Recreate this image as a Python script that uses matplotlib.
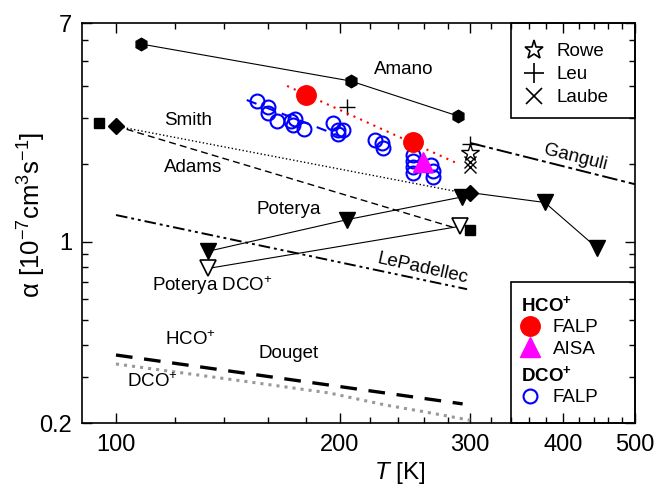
import numpy as np
import matplotlib
matplotlib.use('Agg')
import matplotlib.pyplot as plt
from matplotlib.patches import Rectangle
from matplotlib.lines import Line2D
from matplotlib.ticker import FixedLocator, FixedFormatter, NullFormatter

plt.rcParams['font.family']      = 'Liberation Sans'
plt.rcParams['mathtext.fontset'] = 'custom'
plt.rcParams['mathtext.rm']      = 'Liberation Sans'
plt.rcParams['mathtext.it']      = 'Liberation Sans:italic'
plt.rcParams['mathtext.bf']      = 'Liberation Sans:bold'
plt.rcParams['mathtext.default'] = 'regular'
plt.rcParams['axes.linewidth']   = 1.2

# recombination rate coefficients, alpha in 1e-7 cm^3 s^-1, T in K
T_amano = [108, 207, 289]
a_amano = [5.81, 4.18, 3.06]

T_smith = [100, 300]
a_smith = [2.80, 1.55]
T_smith_fit = [100, 286]
a_smith_fit = [2.80, 1.57]

T_adams = [95, 300]
a_adams = [2.88, 1.11]
T_adams_fit = [100, 284]
a_adams_fit = [2.80, 1.14]

T_pot = [133, 205, 292]
a_pot = [0.92, 1.22, 1.49]
T_pot_dco = [133, 291]
a_pot_dco = [0.79, 1.15]

T_high = [300, 378, 445]
a_high = [1.55, 1.42, 0.945]

T_lepad = [100, 297]
a_lepad = [1.27, 0.657]
T_ganguli = [300, 500]
a_ganguli = [2.41, 1.67]

T_douget_hco = [100, 293]
a_douget_hco = [0.366, 0.237]
T_douget_dco = [100, 150, 194, 230, 260, 300]
a_douget_dco = [0.338, 0.289, 0.261, 0.235, 0.221, 0.205]

T_leu = [205, 300]
a_leu = [3.32, 2.38]
T_rowe = [300]
a_rowe = [2.20]
T_laube = [300, 300]
a_laube = [2.03, 1.94]

# this work
T_falp_hco = [180, 251]
a_falp_hco = [3.69, 2.43]
T_falp_hco_fit = [170, 286]
a_falp_hco_fit = [4.0, 2.03]
T_aisa = [259]
a_aisa = [2.03]

T_falp_dco = [155, 160, 160, 165, 172, 174, 179, 173, 196, 199, 202, 199,
              223, 228, 229, 251, 251, 251, 251, 266, 267, 267]
a_falp_dco = [3.50, 3.32, 3.15, 2.93, 2.93, 2.98, 2.73, 2.83, 2.88, 2.70, 2.70, 2.61,
              2.47, 2.41, 2.30, 2.17, 2.05, 1.95, 1.84, 1.98, 1.88, 1.78]
T_falp_dco_fit = [150, 207]
a_falp_dco_fit = [3.53, 2.47]

x_major = [100, 200, 300, 400, 500]
x_minor = [120, 140, 160, 180, 220, 240, 260, 280, 320, 340, 360, 380,
           420, 440, 460, 480]
y_major = [0.2, 1, 7]
y_minor = [0.3, 0.4, 0.5, 0.6, 0.7, 0.8, 0.9, 2, 3, 4, 5, 6]

fig = plt.figure(figsize=(6.58, 4.87), dpi=100)
ax = fig.add_axes([82/658, 64/487, 553/658, 400/487])
ax.set_xscale('log')
ax.set_yscale('log')

k = 'black'
ax.plot(T_amano, a_amano, 'h-', color=k, lw=0.8, ms=9)
ax.plot(T_smith_fit, a_smith_fit, ':', color=k, lw=1.0)
ax.plot(T_adams_fit, a_adams_fit, color=k, lw=1.0, dashes=(5, 3))
ax.plot(T_smith, a_smith, 'D', color=k, ms=8, ls='none')
ax.plot(T_adams, a_adams, 's', color=k, ms=6.5, ls='none')
ax.plot(T_pot, a_pot, 'v-', color=k, lw=0.8, ms=11)
ax.plot(T_pot_dco, a_pot_dco, 'v-', color=k, mfc='white', lw=0.8, ms=11, mew=1.2)
ax.plot(T_high, a_high, 'v-', color=k, lw=0.8, ms=11, markevery=[1, 2])
ax.plot(T_lepad, a_lepad, color=k, lw=1.4, dashes=(6, 2, 1.5, 2, 1.5, 2))
ax.plot(T_ganguli, a_ganguli, color=k, lw=1.4, dashes=(8, 2, 2, 2))
ax.plot(T_douget_hco, a_douget_hco, color=k, lw=2.4, dashes=(5, 3.5))
ax.plot(T_douget_dco, a_douget_dco, ':', color='#999999', lw=2.2)

ax.plot(T_leu, a_leu, '+', color=k, ms=11, mew=1.0)
ax.plot(T_rowe, a_rowe, '*', color=k, mfc='white', ms=13, mew=1.0)
ax.plot(T_laube, a_laube, 'x', color=k, ms=8, mew=1.0)

ax.plot(T_falp_hco_fit, a_falp_hco_fit, color='red', lw=1.5, dashes=(1, 2.5))
ax.plot(T_falp_dco_fit, a_falp_dco_fit, color='blue', lw=1.5, dashes=(5, 4))
ax.plot(T_falp_dco, a_falp_dco, 'o', color='blue', mfc='none', ms=10, mew=1.5, ls='none')
ax.plot(T_falp_hco, a_falp_hco, 'o', color='red', ms=14, ls='none')
ax.plot(T_aisa, a_aisa, '^', color='magenta', ms=14, ls='none')

# text labels for the literature data
fs = 13.5
ax.text(244, 4.65, 'Amano', fontsize=fs, ha='center', va='center')
ax.text(125, 2.93, 'Smith', fontsize=fs, ha='center', va='center')
ax.text(127, 1.93, 'Adams', fontsize=fs, ha='center', va='center')
ax.text(171, 1.33, 'Poterya', fontsize=fs, ha='center', va='center')
ax.text(135, 0.68, r'Poterya $\mathrm{DCO}^{+}$', fontsize=fs, ha='center', va='center')
ax.text(126, 0.418, r'$\mathrm{HCO}^{+}$', fontsize=fs, ha='center', va='center')
ax.text(171, 0.372, 'Douget', fontsize=fs, ha='center', va='center')
ax.text(112, 0.288, r'$\mathrm{DCO}^{+}$', fontsize=fs, ha='center', va='center')
ax.text(259, 0.79, 'LePadellec', fontsize=fs, ha='center', va='center', rotation=-12.5)
ax.text(416, 2.11, 'Ganguli', fontsize=fs, ha='center', va='center', rotation=-14)

ax.set_xlim(90, 500)
ax.set_ylim(0.2, 7)
ax.xaxis.set_major_locator(FixedLocator(x_major))
ax.xaxis.set_minor_locator(FixedLocator(x_minor))
ax.xaxis.set_major_formatter(FixedFormatter([str(v) for v in x_major]))
ax.xaxis.set_minor_formatter(NullFormatter())
ax.yaxis.set_major_locator(FixedLocator(y_major))
ax.yaxis.set_minor_locator(FixedLocator(y_minor))
ax.yaxis.set_major_formatter(FixedFormatter([str(v) for v in y_major]))
ax.yaxis.set_minor_formatter(NullFormatter())
ax.tick_params(which='both', direction='in', top=True, right=True, width=1.0)
ax.tick_params(which='major', length=7, labelsize=17)
ax.tick_params(axis='x', which='major', pad=8)
ax.tick_params(axis='y', which='major', pad=7)
ax.tick_params(which='minor', length=4)

ax.set_xlabel(r'$\mathit{T}$ [K]', fontsize=17.5)
ax.set_ylabel(r'α [10$^{-7}$cm$^{3}$s$^{-1}$]', fontsize=18.5)
ax.xaxis.set_label_coords(0.575, -0.093)
ax.yaxis.set_label_coords(-0.062, 0.52)

# legend boxes
ax.add_patch(Rectangle((0.776, 0.7625), 0.224, 0.2375, transform=ax.transAxes,
                       fill=False, lw=1.2, ec='black', zorder=6, clip_on=False))
ax.add_patch(Rectangle((0.776, 0.0), 0.224, 0.3525, transform=ax.transAxes,
                       fill=False, lw=1.2, ec='black', zorder=6, clip_on=False))

h_lit = [Line2D([], [], marker='*', color=k, mfc='white', ms=14, mew=1.2, ls='none'),
         Line2D([], [], marker='+', color=k, ms=14, mew=1.2, ls='none'),
         Line2D([], [], marker='x', color=k, ms=11, mew=1.2, ls='none')]
leg1 = ax.legend(h_lit, ['Rowe', 'Leu', 'Laube'], loc='upper left',
                 bbox_to_anchor=(0.797, 0.95), frameon=False, fontsize=fs,
                 borderpad=0, borderaxespad=0, handlelength=1.2,
                 handletextpad=0.6, labelspacing=0.32)
ax.add_artist(leg1)

h_hco = [Line2D([], [], marker='o', color='red', ms=14, ls='none'),
         Line2D([], [], marker='^', color='magenta', ms=14, ls='none')]
leg2 = ax.legend(h_hco, ['FALP', 'AISA'], title=r'$\mathbf{HCO}^{\mathbf{+}}$',
                 alignment='left', title_fontproperties={'weight': 'bold', 'size': fs},
                 loc='upper left', bbox_to_anchor=(0.794, 0.32), frameon=False,
                 fontsize=fs, borderpad=0, borderaxespad=0, handlelength=1.0,
                 handletextpad=0.7, labelspacing=0.22)
ax.add_artist(leg2)

h_dco = [Line2D([], [], marker='o', color='blue', mfc='none', ms=10, mew=1.5, ls='none')]
leg3 = ax.legend(h_dco, ['FALP'], title=r'$\mathbf{DCO}^{\mathbf{+}}$',
                 alignment='left', title_fontproperties={'weight': 'bold', 'size': fs},
                 loc='upper left', bbox_to_anchor=(0.794, 0.145), frameon=False,
                 fontsize=fs, borderpad=0, borderaxespad=0, handlelength=1.0,
                 handletextpad=0.7, labelspacing=0.22)

fig.savefig('out.png', dpi=100)
